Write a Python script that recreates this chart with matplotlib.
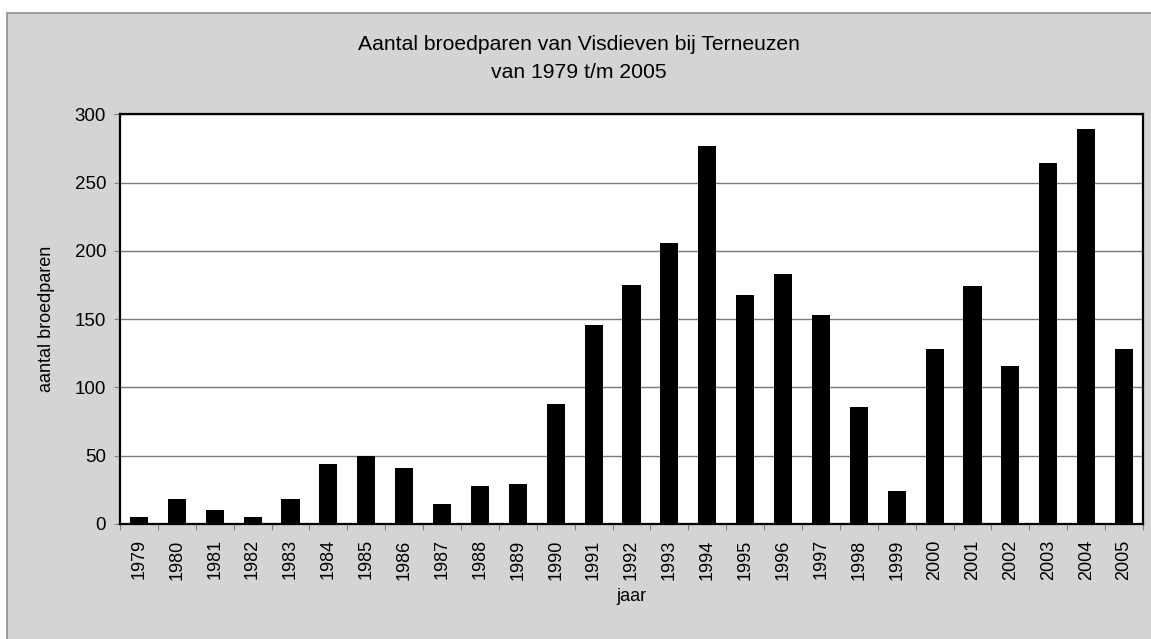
import numpy as np
import matplotlib.pyplot as plt
from matplotlib.patches import Rectangle

plt.rcParams['font.family'] = ['Liberation Sans', 'DejaVu Sans']

# jaren en aantal broedparen
jaren = [str(j) for j in range(1979, 2006)]
broedparen = [5, 18, 10, 5, 18, 44, 50, 41, 15, 28, 29, 88, 146, 175, 206, 277,
              168, 183, 153, 86, 24, 128, 174, 116, 264, 289, 128]

fig = plt.figure(figsize=(11.51, 6.39), dpi=100)
fig.patch.set_facecolor('white')
# grijze achtergrond van de grafiek
fig.patches.append(Rectangle((7 / 1151, -0.01), 1.0, (639 - 13) / 639 + 0.01,
                             transform=fig.transFigure, facecolor='#d4d4d4',
                             edgecolor='#8c8c8c', linewidth=1.2, zorder=-5))

ax = fig.add_axes([120 / 1151, 115 / 639, 1023 / 1151, 409.7 / 639])
x = np.arange(len(jaren))
ax.bar(x, broedparen, width=0.48, color='black', zorder=3)

ax.set_xlim(-0.5, len(jaren) - 0.5)
ax.set_ylim(0, 300)
ax.set_yticks(np.arange(0, 301, 50))
ax.yaxis.grid(True, color='#7a7a7a', linewidth=1.0, zorder=1)
ax.set_axisbelow(True)

ax.set_xticks(x)
ax.set_xticklabels(jaren, rotation=90, fontsize=13)
ax.set_xticks(np.arange(-0.5, len(jaren), 1), minor=True)
ax.tick_params(axis='x', which='major', length=0, pad=11)
ax.tick_params(axis='x', which='minor', length=4, color='#808080', width=0.8)
ax.tick_params(axis='y', length=4, color='#808080', width=0.8, pad=6, labelsize=13.5)

for s in ax.spines.values():
    s.set_linewidth(1.6)
    s.set_color('black')

ax.set_ylabel('aantal broedparen', fontsize=13)
ax.yaxis.set_label_coords(-0.0635, 0.5)
ax.set_xlabel('jaar', fontsize=13)
ax.xaxis.set_label_coords(0.5, -0.178)
ax.xaxis.label.set_va('center')

fig.text(579 / 1151, 1 - 45 / 639, 'Aantal broedparen van Visdieven bij Terneuzen',
         ha='center', va='center', fontsize=15.2)
fig.text(579 / 1151, 1 - 72 / 639, 'van 1979 t/m 2005',
         ha='center', va='center', fontsize=15.2)

plt.savefig('out.png', dpi=100, facecolor=fig.get_facecolor())
